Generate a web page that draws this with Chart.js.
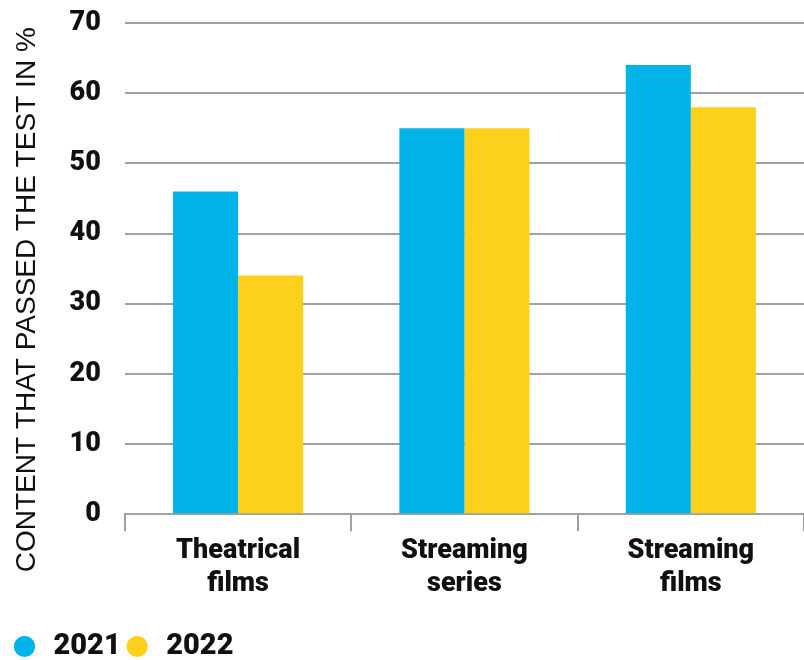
<!DOCTYPE html>
<html>
<head>
<meta charset="utf-8">
<script src="https://cdn.jsdelivr.net/npm/chart.js@4"></script>
<style>
  body { margin: 0; background: #fff; }
  #wrap { width: 804px; height: 660px; }
</style>
</head>
<body>
<div id="wrap"><canvas id="chart"></canvas></div>
<script>
const categories = [["Theatrical", "films"], ["Streaming", "series"], ["Streaming", "films"]];
const values2021 = [46, 55, 64];
const values2022 = [34, 55, 58];
const yTicks = [0, 10, 20, 30, 40, 50, 60, 70];

const blue = "#00b4ea";
const yellow = "#fdd11b";
const gridGray = "#a0a0a0";

const ctx = document.getElementById("chart").getContext("2d");
new Chart(ctx, {
    type: "bar",
    data: {
        labels: categories,
        datasets: [
            { label: "2021", data: values2021, backgroundColor: blue, borderWidth: 0 },
            { label: "2022", data: values2022, backgroundColor: yellow, borderWidth: 0 }
        ]
    },
    options: {
        responsive: true,
        maintainAspectRatio: false,
        animation: false,
        layout: { padding: { top: 0, left: 8, right: 0, bottom: -11 } },
        datasets: { bar: { categoryPercentage: 0.575, barPercentage: 1 } },
        plugins: {
            tooltip: { enabled: false },
            legend: {
                position: "bottom",
                align: "start",
                labels: {
                    usePointStyle: true,
                    pointStyle: "circle",
                    boxHeight: 15,
                    padding: 2,
                    color: "#111",
                    font: { family: "Roboto", size: 29, weight: "900" }
                }
            }
        },
        scales: {
            x: {
                offset: true,
                grid: {
                    offset: true,
                    drawOnChartArea: false,
                    drawTicks: true,
                    tickLength: 17,
                    color: gridGray,
                    lineWidth: 2
                },
                border: { color: gridGray, width: 2 },
                ticks: {
                    color: "#111",
                    padding: 4,
                    font: { family: "Roboto", size: 27, weight: "900", lineHeight: 1.2 }
                },
                // leave room between the category labels and the legend
                afterFit: (s) => { s.height += 26; }
            },
            y: {
                min: 0,
                max: 70,
                afterBuildTicks: (axis) => { axis.ticks = yTicks.map(v => ({ value: v })); },
                afterFit: (s) => { s.paddingTop = 23; },
                grid: { color: gridGray, lineWidth: 2, drawTicks: false },
                border: { display: false },
                ticks: {
                    color: "#111",
                    padding: 24,
                    font: { family: "Roboto", size: 27, weight: "900" }
                },
                title: {
                    display: true,
                    // trailing spaces push the centred title a little lower, as in the original
                    text: "CONTENT THAT PASSED THE TEST IN %        ",
                    color: "#111",
                    padding: { top: 2, bottom: 2 },
                    font: { family: "Liberation Sans", size: 28, weight: "normal" }
                }
            }
        }
    }
});
</script>
</body>
</html>
